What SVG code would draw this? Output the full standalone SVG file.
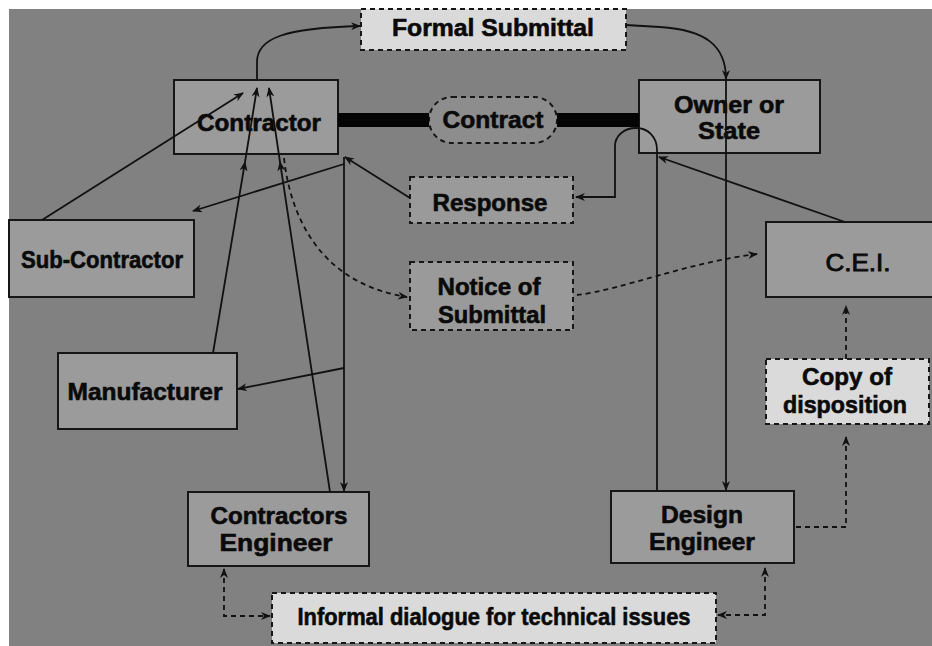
<svg xmlns="http://www.w3.org/2000/svg" width="932" height="646" viewBox="0 0 932 646">
<defs>
<marker id="ah" viewBox="0 0 10 8" refX="9" refY="4" markerWidth="10" markerHeight="8" markerUnits="userSpaceOnUse" orient="auto-start-reverse">
<path d="M0,0 L10,4 L0,8 L3,4 z" fill="#111"/>
</marker>
</defs>
<style>
.node{fill:#9b9b9b;stroke:#161616;stroke-width:2}
.lbl{fill:#dadada;stroke:#161616;stroke-width:2;stroke-dasharray:5 4}
.mid{fill:#9a9a9a;stroke:#161616;stroke-width:2;stroke-dasharray:5 4}
text{font-family:"Liberation Sans",Arial,sans-serif;font-weight:bold;font-size:24px;fill:#0a0a0a;stroke:#0a0a0a;stroke-width:0.6;text-anchor:middle}
.c{fill:none;stroke:#111;stroke-width:1.8}
.d{fill:none;stroke:#111;stroke-width:1.8;stroke-dasharray:5 4}
.a{marker-end:url(#ah)}
</style>
<rect x="0" y="0" width="932" height="646" fill="#ffffff"/>
<rect x="9" y="9" width="923" height="637" fill="#818181"/>

<g id="formal-submittal"><rect class="lbl" x="361" y="9" width="265" height="41"/><text x="493" y="36" textLength="202" lengthAdjust="spacingAndGlyphs">Formal Submittal</text></g>
<g id="contractor"><rect class="node" x="174" y="80" width="164" height="74"/><text x="259" y="131" textLength="124" lengthAdjust="spacingAndGlyphs">Contractor</text></g>
<g id="contract"><rect class="mid" x="429" y="97" width="128" height="46" rx="23" style="fill:#8d8d8d"/><text x="493" y="128" textLength="101" lengthAdjust="spacingAndGlyphs">Contract</text></g>
<g id="owner"><rect class="node" x="639" y="80" width="181" height="73"/><text x="729" y="113" textLength="110" lengthAdjust="spacingAndGlyphs">Owner or</text><text x="729" y="139" textLength="62" lengthAdjust="spacingAndGlyphs">State</text></g>
<g id="response"><rect class="mid" x="410" y="177" width="163" height="46"/><text x="490" y="211" textLength="115" lengthAdjust="spacingAndGlyphs">Response</text></g>
<g id="notice"><rect class="mid" x="410" y="262" width="163" height="68"/><text x="489" y="295" textLength="103" lengthAdjust="spacingAndGlyphs">Notice of</text><text x="492" y="323" textLength="108" lengthAdjust="spacingAndGlyphs">Submittal</text></g>
<g id="cei"><rect class="node" x="766" y="222" width="180" height="75"/><text x="858" y="271" textLength="65" lengthAdjust="spacingAndGlyphs" style="font-weight:normal;stroke-width:0.9">C.E.I.</text></g>
<g id="sub-contractor"><rect class="node" x="9" y="220" width="185" height="77"/><text x="102" y="268" textLength="162" lengthAdjust="spacingAndGlyphs">Sub-Contractor</text></g>
<g id="manufacturer"><rect class="node" x="58" y="353" width="179" height="76"/><text x="145" y="400" textLength="155" lengthAdjust="spacingAndGlyphs">Manufacturer</text></g>
<g id="copy-of-disposition"><rect class="lbl" x="766" y="359" width="163" height="65"/><text x="847" y="385" textLength="90" lengthAdjust="spacingAndGlyphs">Copy of</text><text x="845" y="413" textLength="124" lengthAdjust="spacingAndGlyphs">disposition</text></g>
<g id="contractors-engineer"><rect class="node" x="188" y="492" width="181" height="74"/><text x="279" y="524" textLength="137" lengthAdjust="spacingAndGlyphs">Contractors</text><text x="276" y="551" textLength="113" lengthAdjust="spacingAndGlyphs">Engineer</text></g>
<g id="design-engineer"><rect class="node" x="611" y="491" width="183" height="72"/><text x="702" y="523" textLength="82" lengthAdjust="spacingAndGlyphs">Design</text><text x="702" y="550" textLength="106" lengthAdjust="spacingAndGlyphs">Engineer</text></g>
<g id="informal-dialogue"><rect class="lbl" x="272" y="593" width="444" height="50"/><text x="494" y="625" textLength="393" lengthAdjust="spacingAndGlyphs">Informal dialogue for technical issues</text></g>

<g id="connectors">
<rect x="338" y="113" width="91" height="14" fill="#050505"/>
<rect x="557" y="113" width="82" height="14" fill="#050505"/>
<path class="c a" d="M257,80 L257,62 C257,38 285,28 360,26"/>
<path class="c a" d="M626,25 L660,27 C705,30 726,45 726,79"/>
<path class="c a" d="M726,80 L726,490"/>
<path class="c a" d="M657,491 L657,150 C657,137 648,128 636,128 C624,128 615,136 615,146 L615,197 L576,197"/>
<path class="c a" d="M845,222 L659,157"/>
<path class="c a" d="M410,198 L345,157"/>
<path class="c a" d="M344,157 L344,491"/>
<path class="c a" d="M344,164 L193,211"/>
<path class="c a" d="M344,368 L238,389"/>
<path class="c a" d="M42,220 L243,93"/>
<path class="c a" d="M213,353 L245,162 L257,88" style="marker-mid:url(#ah)"/>
<path class="c a" d="M330,492 L280,162 L269,88" style="marker-mid:url(#ah)"/>
<path class="d a" d="M284,158 C292,230 330,285 407,297"/>
<path class="d a" d="M577,295 C620,290 690,262 757,254"/>
<path class="d a" d="M796,527 L846,527 L846,437"/>
<path class="d a" d="M846,359 L846,306"/>
<path class="d a" d="M224,569 L224,616 L270,616" style="marker-start:url(#ah)"/>
<path class="d a" d="M765,568 L765,615 L718,615" style="marker-start:url(#ah)"/>
</g>
</svg>
